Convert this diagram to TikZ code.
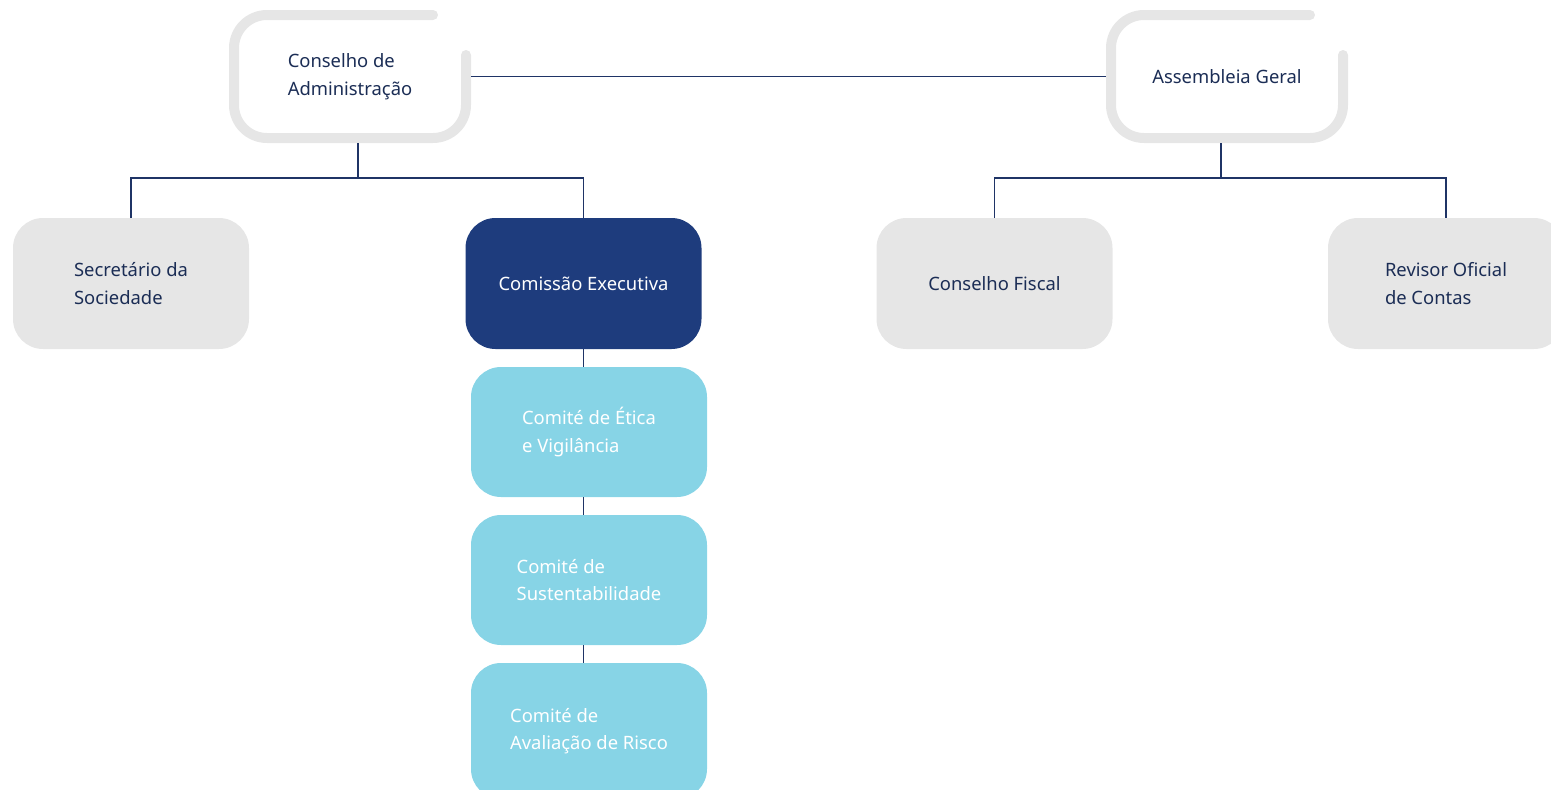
\documentclass[tikz,border=0pt]{standalone}
\usepackage{fontspec}
\setmainfont{Noto Sans}
\usetikzlibrary{calc}
\definecolor{boxgray}{HTML}{E6E6E6}
\definecolor{navy}{HTML}{1E3C7D}
\definecolor{skyblue}{HTML}{87D4E6}
\definecolor{txtdark}{HTML}{1B2D55}
\definecolor{linecol}{HTML}{1F3466}
\begin{document}
\begin{tikzpicture}[x=1pt,y=-1pt,
  lbl/.style={font=\fontsize{18.4}{27.5}\selectfont, align=left},
  topbox/.style={lbl, rectangle, minimum width=232pt, minimum height=123pt, outer sep=5pt, inner sep=0pt, text=txtdark},
  topborder/.style={draw=boxgray, line width=10pt, line cap=round, rounded corners=33pt},
  graybox/.style={lbl, rectangle, rounded corners=30pt, fill=boxgray, minimum width=236pt, minimum height=131pt, inner sep=0pt, outer sep=0pt, text=txtdark},
  navybox/.style={graybox, fill=navy, text=white},
  bluebox/.style={graybox, fill=skyblue, text=white, minimum height=130pt},
  conn/.style={draw=linecol, line width=1.3pt}
]
\useasboundingbox (0,0) rectangle (1551,790);
% top boxes
\node[topbox] (ca) at (350,76.5) {Conselho de\\Administração};
\node[topbox] (ag) at (1227,76.5) {Assembleia Geral};
\draw[topborder] ($(ca.north east)+(-38,5)$) -- ($(ca.north west)+(5,5)$) -- ($(ca.south west)+(5,-5)$) -- ($(ca.south east)+(-5,-5)$) -- ($(ca.north east)+(-5,45)$);
\draw[topborder] ($(ag.north east)+(-38,5)$) -- ($(ag.north west)+(5,5)$) -- ($(ag.south west)+(5,-5)$) -- ($(ag.south east)+(-5,-5)$) -- ($(ag.north east)+(-5,45)$);
% level 2
\node[graybox] (sec) at (131,283.5) {Secretário da\\Sociedade};
\node[navybox] (ce) at (583.5,283.5) {Comissão Executiva};
\node[graybox] (cf) at (994.5,283.5) {Conselho Fiscal};
\node[graybox] (roc) at (1446,283.5) {Revisor Oficial\\de Contas};
% committees
\node[bluebox] (c1) at (589,432) {Comité de Ética\\e Vigilância};
\node[bluebox] (c2) at (589,580) {Comité de\\Sustentabilidade};
\node[bluebox, minimum height=136pt] (c3) at (589,731) {Comité de\\Avaliação de Risco};
% connectors
\draw[conn] (ca.east) -- (ag.west);
\coordinate (j1) at (358,178);
\coordinate (j2) at (1221,178);
\draw[conn] (ca.south -| j1) -- (j1);
\draw[conn] (sec.north) |- (j1) -| (ce.north);
\draw[conn] (ag.south -| j2) -- (j2);
\draw[conn] (cf.north) |- (j2) -| (roc.north);
\draw[conn] (ce.south) -- (c1.north -| ce.south);
\draw[conn] (c1.south -| ce.south) -- (c2.north -| ce.south);
\draw[conn] (c2.south -| ce.south) -- (c3.north -| ce.south);
\end{tikzpicture}
\end{document}
